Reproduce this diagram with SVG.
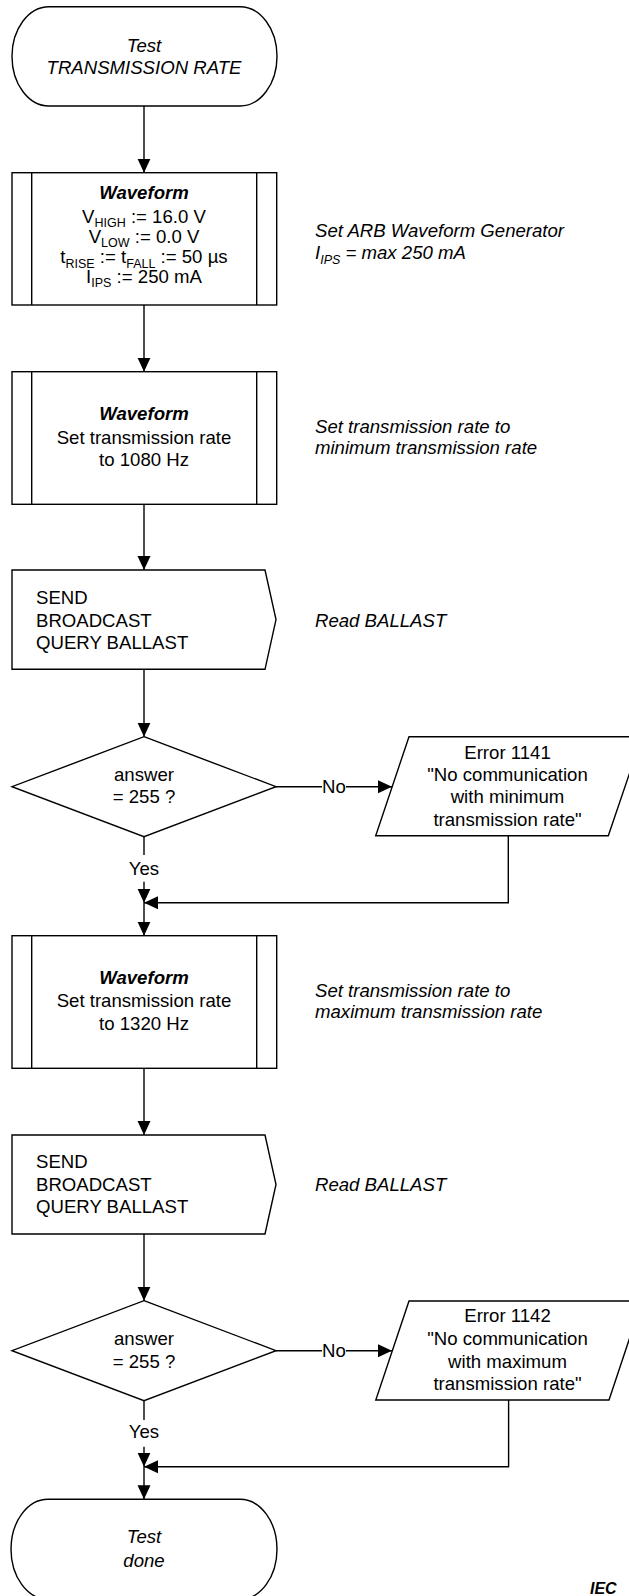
<svg xmlns="http://www.w3.org/2000/svg" width="629" height="1596" viewBox="0 0 629 1596">
<defs>
<style>
.s{fill:#fff;stroke:#000;stroke-width:1.4}
.l{fill:none;stroke:#000;stroke-width:1.4}
text{font-family:"Liberation Sans",Arial,sans-serif;font-size:18.6px;fill:#000}
.c{text-anchor:middle}
.i{font-style:italic}
.b{font-weight:bold;font-style:italic}
.sub{font-size:12.5px}
</style>
<marker id="ah" viewBox="0 0 14 14" refX="14" refY="7" markerWidth="14" markerHeight="14" orient="auto" markerUnits="userSpaceOnUse">
<path d="M0,0.5 L14,7 L0,13.5 Z" fill="#000"/>
</marker>
</defs>
<rect width="629" height="1596" fill="#fff"/>

<g id="connectors">
<path class="l" d="M144,106 V172.7" marker-end="url(#ah)"/>
<path class="l" d="M144,305 V371.7" marker-end="url(#ah)"/>
<path class="l" d="M144,504.3 V570" marker-end="url(#ah)"/>
<path class="l" d="M144,669.3 V736.7" marker-end="url(#ah)"/>
<path class="l" d="M144,836.7 V855"/>
<path class="l" d="M144,881.7 V902.7" marker-end="url(#ah)"/>
<path class="l" d="M276,786.7 H322"/>
<path class="l" d="M346,786.7 H392" marker-end="url(#ah)"/>
<path class="l" d="M508.3,835.7 V902.7 H144" marker-end="url(#ah)"/>
<path class="l" d="M144,902.7 V935.7" marker-end="url(#ah)"/>
<path class="l" d="M144,1068.3 V1135" marker-end="url(#ah)"/>
<path class="l" d="M144,1234 V1300.7" marker-end="url(#ah)"/>
<path class="l" d="M144,1400.7 V1420"/>
<path class="l" d="M144,1446.7 V1466.7" marker-end="url(#ah)"/>
<path class="l" d="M276,1350.7 H322"/>
<path class="l" d="M346,1350.7 H392" marker-end="url(#ah)"/>
<path class="l" d="M508.6,1400 V1466.7 H144" marker-end="url(#ah)"/>
<path class="l" d="M144,1466.7 V1499.3" marker-end="url(#ah)"/>
<text class="c" x="144" y="875">Yes</text>
<text class="c" x="334" y="793.3">No</text>
<text class="c" x="144" y="1438.3">Yes</text>
<text class="c" x="334" y="1357.3">No</text>
</g>

<g id="start">
<rect class="s" x="12" y="6.7" width="265" height="99.3" rx="37" ry="49.6"/>
<text class="c i" x="144" y="51.7">Test</text>
<text class="c i" x="144" y="74">TRANSMISSION RATE</text>
</g>

<g id="waveform1">
<rect class="s" x="12" y="172.7" width="264.7" height="132.3"/>
<path class="l" d="M31.7,172.7 V305 M256.7,172.7 V305"/>
<text class="c b" x="144" y="199.3">Waveform</text>
<text class="c" x="144" y="222.7">V<tspan class="sub" dy="4.5">HIGH</tspan><tspan dy="-4.5"> := 16.0 V</tspan></text>
<text class="c" x="144" y="242.7">V<tspan class="sub" dy="4.5">LOW</tspan><tspan dy="-4.5"> := 0.0 V</tspan></text>
<text class="c" x="144" y="263.3">t<tspan class="sub" dy="4.5">RISE</tspan><tspan dy="-4.5"> := t</tspan><tspan class="sub" dy="4.5">FALL</tspan><tspan dy="-4.5"> := 50 µs</tspan></text>
<text class="c" x="144" y="282.7">I<tspan class="sub" dy="4.5">IPS</tspan><tspan dy="-4.5"> := 250 mA</tspan></text>
</g>

<g id="waveform2">
<rect class="s" x="12" y="371.7" width="264.7" height="132.6"/>
<path class="l" d="M31.7,371.7 V504.3 M256.7,371.7 V504.3"/>
<text class="c b" x="144" y="420">Waveform</text>
<text class="c" x="144" y="443.5">Set transmission rate</text>
<text class="c" x="144" y="466">to 1080 Hz</text>
</g>

<g id="send1">
<polygon class="s" points="12,570 265,570 276,619.6 265,669.3 12,669.3"/>
<text x="36" y="604">SEND</text>
<text x="36" y="626.5">BROADCAST</text>
<text x="36" y="649">QUERY BALLAST</text>
</g>

<g id="decision1">
<polygon class="s" points="144,736.7 276,786.7 144,836.7 12,786.7"/>
<text class="c" x="144" y="781">answer</text>
<text class="c" x="144" y="803">= 255 ?</text>
</g>

<g id="error1">
<polygon class="s" points="409,736.7 642,736.7 608.3,835.7 375.7,835.7"/>
<text class="c" x="507.5" y="758.5">Error 1141</text>
<text class="c" x="507.5" y="781">"No communication</text>
<text class="c" x="507.5" y="803">with minimum</text>
<text class="c" x="507.5" y="825.5">transmission rate"</text>
</g>

<g id="waveform3">
<rect class="s" x="12" y="935.7" width="264.7" height="132.6"/>
<path class="l" d="M31.7,935.7 V1068.3 M256.7,935.7 V1068.3"/>
<text class="c b" x="144" y="984">Waveform</text>
<text class="c" x="144" y="1007.3">Set transmission rate</text>
<text class="c" x="144" y="1030">to 1320 Hz</text>
</g>

<g id="send2">
<polygon class="s" points="12,1135 265,1135 276,1184.5 265,1234 12,1234"/>
<text x="36" y="1167.5">SEND</text>
<text x="36" y="1190.5">BROADCAST</text>
<text x="36" y="1213">QUERY BALLAST</text>
</g>

<g id="decision2">
<polygon class="s" points="144,1300.7 276,1350.7 144,1400.7 12,1350.7"/>
<text class="c" x="144" y="1345">answer</text>
<text class="c" x="144" y="1367.7">= 255 ?</text>
</g>

<g id="error2">
<polygon class="s" points="409,1301 642,1301 609,1400 375.8,1400"/>
<text class="c" x="507.5" y="1322">Error 1142</text>
<text class="c" x="507.5" y="1345">"No communication</text>
<text class="c" x="507.5" y="1367.7">with maximum</text>
<text class="c" x="507.5" y="1390">transmission rate"</text>
</g>

<g id="end">
<rect class="s" x="11" y="1499.3" width="266" height="100" rx="37" ry="50"/>
<text class="c i" x="144" y="1543.3">Test</text>
<text class="c i" x="144" y="1566.7">done</text>
</g>

<g id="annotations">
<text class="i" x="315" y="237.3">Set ARB Waveform Generator</text>
<text class="i" x="315" y="259.3">I<tspan class="sub" dy="4.5">IPS</tspan><tspan dy="-4.5"> = max 250 mA</tspan></text>
<text class="i" x="315" y="432.7">Set transmission rate to</text>
<text class="i" x="315" y="454">minimum transmission rate</text>
<text class="i" x="315" y="626.7">Read BALLAST</text>
<text class="i" x="315" y="996.7">Set transmission rate to</text>
<text class="i" x="315" y="1018.3">maximum transmission rate</text>
<text class="i" x="315" y="1190.7">Read BALLAST</text>
<text class="b" x="590" y="1594" style="font-size:16px">IEC</text>
</g>
</svg>
